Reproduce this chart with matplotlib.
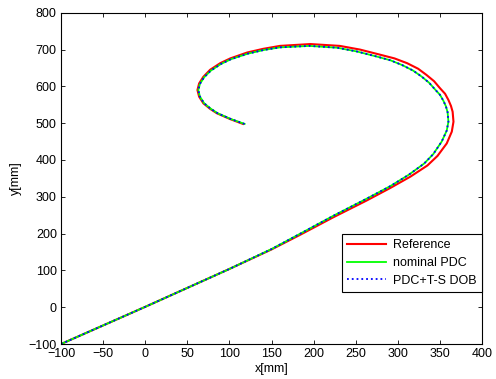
import matplotlib
matplotlib.use("Agg")
import matplotlib.pyplot as plt

# trajectory points (mm)
ref_x = [-100, 0, 100, 150, 185, 223, 263, 291, 315, 335, 347, 358, 364, 366, 365, 363,
         360, 356, 350, 343, 334, 324, 311, 296, 279, 255, 231, 196, 160, 140, 121, 101,
         89, 77, 69, 64, 62, 64, 69, 77, 85, 101, 116]
ref_y = [-100, 1, 104, 157, 198, 244, 290, 324, 355, 385, 411, 445, 477, 504, 531, 547,
         563, 580, 595, 614, 631, 648, 663, 676, 686, 700, 710, 715, 710, 702, 692, 676,
         663, 645, 626, 608, 590, 572, 554, 539, 527, 511, 498]

pdc_x = [-100, 0, 100, 150, 185, 223, 263, 291, 313, 331, 342, 352, 358, 360, 359, 357,
         354, 350, 344, 337, 328, 318, 305, 291, 275, 251, 228, 195, 160, 141, 122, 102,
         90, 78, 70, 65, 63, 65, 70, 78, 86, 102, 118]
pdc_y = [-100, 1, 104, 158, 201, 248, 295, 329, 360, 390, 416, 450, 480, 504, 530, 546,
         561, 577, 592, 610, 627, 643, 658, 671, 681, 695, 705, 710, 706, 699, 689, 674,
         661, 643, 625, 607, 590, 572, 554, 539, 527, 511, 498]

dob_x = list(pdc_x)
dob_y = list(pdc_y)

x_ticks = [-100, -50, 0, 50, 100, 150, 200, 250, 300, 350, 400]
y_ticks = [-100, 0, 100, 200, 300, 400, 500, 600, 700, 800]

plt.rcParams['font.family'] = ['Liberation Sans', 'DejaVu Sans']
plt.rcParams['font.size'] = 9

fig = plt.figure(figsize=(4.96, 3.79), dpi=100)
ax = fig.add_axes([0.123, 0.0923, 0.849, 0.874])

ax.plot(ref_x, ref_y, color=(1, 0, 0), lw=1.5, label='Reference')
ax.plot(pdc_x, pdc_y, color=(0, 1, 0), lw=1.3, label='nominal PDC')
ax.plot(dob_x, dob_y, color=(0, 0, 1), lw=1.3, ls=':', label='PDC+T-S DOB')

ax.set_xlim(-100, 400)
ax.set_ylim(-100, 800)
ax.set_xticks(x_ticks)
ax.set_yticks(y_ticks)
ax.tick_params(direction='in', length=3, width=0.6, top=True, right=True, pad=3)
for s in ax.spines.values():
    s.set_linewidth(0.8)

ax.set_xlabel('x[mm]', labelpad=2)
ax.set_ylabel('y[mm]', labelpad=5)

leg = ax.legend(loc='upper right', bbox_to_anchor=(1.0, 0.331), borderaxespad=0,
                fancybox=False, framealpha=1, edgecolor='black', handlelength=3.1,
                labelspacing=0.45, borderpad=0.4, handletextpad=0.6)
leg.get_frame().set_linewidth(0.8)

fig.savefig('out.png', dpi=100)
